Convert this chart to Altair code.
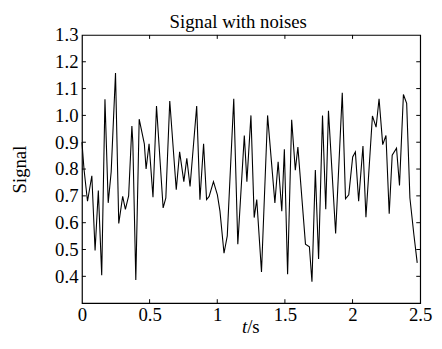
import altair as alt
import pandas as pd

# Signal trace
t = [0.000, 0.015, 0.041, 0.073, 0.097, 0.121, 0.146, 0.170, 0.194, 0.216,
     0.248, 0.272, 0.301, 0.321, 0.345, 0.369, 0.376, 0.398, 0.423, 0.461,
     0.474, 0.496, 0.525, 0.551, 0.600, 0.620, 0.649, 0.697, 0.722, 0.753,
     0.775, 0.799, 0.848, 0.872, 0.899, 0.921, 0.940, 0.972, 1.001, 1.020,
     1.050, 1.074, 1.122, 1.152, 1.200, 1.207, 1.219, 1.249, 1.273, 1.292,
     1.327, 1.372, 1.426, 1.450, 1.477, 1.496, 1.520, 1.550, 1.577, 1.596,
     1.652, 1.681, 1.700, 1.725, 1.749, 1.778, 1.802, 1.822, 1.875, 1.924,
     1.948, 1.972, 2.001, 2.021, 2.045, 2.077, 2.099, 2.147, 2.174, 2.196,
     2.223, 2.247, 2.271, 2.293, 2.325, 2.347, 2.376, 2.400, 2.424, 2.453,
     2.478]
signal = [0.900, 0.800, 0.680, 0.775, 0.496, 0.720, 0.404, 1.060, 0.674, 0.790,
          1.158, 0.597, 0.698, 0.650, 0.700, 0.960, 0.900, 0.386, 0.986, 0.894,
          0.800, 0.894, 0.695, 1.035, 0.655, 0.692, 1.054, 0.723, 0.864, 0.753,
          0.840, 0.735, 1.035, 0.686, 0.894, 0.686, 0.698, 0.753, 0.704, 0.643,
          0.486, 0.551, 1.062, 0.520, 0.925, 0.864, 0.753, 1.000, 0.619, 0.686,
          0.416, 1.000, 0.674, 0.827, 0.643, 0.874, 0.408, 0.984, 0.796, 0.882,
          0.520, 0.510, 0.380, 0.796, 0.465, 1.000, 0.650, 1.017, 0.560, 1.084,
          0.689, 0.704, 0.845, 0.864, 0.680, 0.886, 0.620, 0.998, 0.956, 1.062,
          0.891, 0.925, 0.633, 0.852, 0.878, 0.739, 1.078, 1.045, 0.692, 0.557,
          0.450]

title_text = "Signal with noises"
x_ticks = [0, 0.5, 1, 1.5, 2, 2.5]
y_ticks = [0.3, 0.4, 0.5, 0.6, 0.7, 0.8, 0.9, 1.0, 1.1, 1.2, 1.3]
x_inner = [0.5, 1, 1.5, 2]
y_inner = [0.4, 0.5, 0.6, 0.7, 0.8, 0.9, 1.0, 1.1, 1.2]

W, H = 343, 272
FONT = "Liberation Serif"

xs = alt.Scale(domain=[0, 2.5], nice=False, zero=False)
ys = alt.Scale(domain=[0.3, 1.3], nice=False, zero=False)

xaxis = alt.Axis(values=x_ticks, format="~g", ticks=False, domain=False, grid=False,
                 labelPadding=3, labelFontSize=19, labelFont=FONT, labelColor="black",
                 labelFlush=False, title=None)
yaxis = alt.Axis(values=y_ticks, ticks=False, domain=False, grid=False,
                 labelPadding=4, labelFontSize=19, labelFont=FONT, labelColor="black",
                 labelExpr="datum.value < 0.35 ? '' : format(datum.value, '.1f')",
                 title="Signal", titleFontSize=19, titleFont=FONT, titleFontWeight="normal",
                 titleColor="black", titlePadding=26)

df = pd.DataFrame({"t": t, "signal": signal})
line = alt.Chart(df).mark_line(color="black", strokeWidth=1.1).encode(
    x=alt.X("t:Q", scale=xs, axis=xaxis),
    y=alt.Y("signal:Q", scale=ys, axis=yaxis),
)

xt = pd.DataFrame({"t": x_inner})
yt = pd.DataFrame({"signal": y_inner})

tick_bottom = alt.Chart(xt).mark_rule(color="black", strokeWidth=1).encode(
    x=alt.X("t:Q", scale=xs, axis=xaxis), y=alt.value(H), y2=alt.value(H - 4))
tick_top = alt.Chart(xt).mark_rule(color="black", strokeWidth=1).encode(
    x=alt.X("t:Q", scale=xs, axis=xaxis), y=alt.value(0), y2=alt.value(4))
tick_left = alt.Chart(yt).mark_rule(color="black", strokeWidth=1).encode(
    y=alt.Y("signal:Q", scale=ys, axis=yaxis), x=alt.value(0), x2=alt.value(4))
tick_right = alt.Chart(yt).mark_rule(color="black", strokeWidth=1).encode(
    y=alt.Y("signal:Q", scale=ys, axis=yaxis), x=alt.value(W), x2=alt.value(W - 4))

lab = pd.DataFrame({"a": ["t"], "b": ["/s"], "title": [title_text]})
xt_t = alt.Chart(lab).mark_text(font=FONT, fontSize=19, fontStyle="italic", align="right",
                                baseline="alphabetic", color="black").encode(
    text="a:N", x=alt.value(167.5), y=alt.value(302))
xt_s = alt.Chart(lab).mark_text(font=FONT, fontSize=19, align="left",
                                baseline="alphabetic", color="black").encode(
    text="b:N", x=alt.value(167.5), y=alt.value(302))
ttl = alt.Chart(lab).mark_text(font=FONT, fontSize=19, align="center",
                               baseline="alphabetic", color="black").encode(
    text="title:N", x=alt.value(W / 2 - 13), y=alt.value(-7))

chart = alt.layer(line, tick_bottom, tick_top, tick_left, tick_right, xt_t, xt_s, ttl).properties(
    width=W, height=H,
    autosize=alt.AutoSizeParams(type="none"),
    padding={"left": 75, "top": 25, "right": 14, "bottom": 32},
).configure(background="white").configure_view(stroke="black", strokeWidth=1.2)

chart.save("out.html", embed_options={"renderer": "svg", "actions": False})
